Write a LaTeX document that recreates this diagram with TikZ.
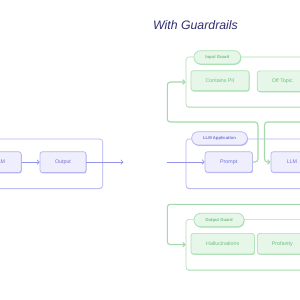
\documentclass[tikz,border=0pt]{standalone}
\usepackage{fontspec}
\setmainfont{Liberation Sans}
\usetikzlibrary{arrows.meta,shadows}
\definecolor{pfill}{HTML}{EEEEFC}
\definecolor{pline}{HTML}{B5B5F2}
\definecolor{ptext}{HTML}{7474D6}
\definecolor{parrow}{HTML}{9494EA}
\definecolor{gfill}{HTML}{E6F7E9}
\definecolor{gline}{HTML}{ADDFB5}
\definecolor{gtext}{HTML}{6DC07C}
\definecolor{garrow}{HTML}{A3D9AB}
\definecolor{titlec}{HTML}{2E2E70}
\begin{document}
\begin{tikzpicture}[x=1pt,y=-1pt,
  box/.style={rectangle,rounded corners=2.5pt,line width=0.7pt,inner sep=0pt,font=\fontsize{5.3}{6}\selectfont},
  pbox/.style={box,draw=pline,fill=pfill,text=ptext,drop shadow={shadow xshift=0.6pt,shadow yshift=-0.9pt,opacity=1,fill=pline}},
  gbox/.style={box,draw=gline,fill=gfill,text=gtext,drop shadow={shadow xshift=0.6pt,shadow yshift=-0.9pt,opacity=1,fill=gline}},
  grp/.style={rectangle,rounded corners=3pt,line width=0.6pt,inner sep=0pt,fill=white},
  pgrp/.style={grp,draw=pline,drop shadow={shadow xshift=0pt,shadow yshift=-0.7pt,opacity=1,fill=pline}},
  ggrp/.style={grp,draw=gline,drop shadow={shadow xshift=0pt,shadow yshift=-0.7pt,opacity=1,fill=gline}},
  pill/.style={rectangle,rounded corners=6.5pt,line width=0.7pt,inner sep=0pt,font=\fontsize{4.2}{5}\selectfont\bfseries},
  ppill/.style={pill,draw=pline,fill=pfill,text=ptext,drop shadow={shadow xshift=0.6pt,shadow yshift=-0.9pt,opacity=1,fill=pline}},
  gpill/.style={pill,draw=gline,fill=gfill,text=gtext,drop shadow={shadow xshift=0.6pt,shadow yshift=-0.9pt,opacity=1,fill=gline}},
  pcon/.style={draw=parrow,line width=0.7pt,-{Straight Barb[length=2.2pt,width=4.6pt]}},
  gcon/.style={draw=garrow,line width=1.1pt,rounded corners=3pt,-{Straight Barb[length=2.2pt,width=4.6pt]}}
]
\useasboundingbox (0,0) rectangle (300,300);
\fill[white] (0,0) rectangle (300,300);
\clip (0,0) rectangle (300,300);

% title
\node[anchor=base,text=titlec,font=\fontsize{12.3}{14}\selectfont\itshape,inner sep=0pt] (title) at (195.5,29.5) {With Guardrails};

% left: without guardrails
\node[pgrp,minimum width=142.7pt,minimum height=49.3pt] (leftgrp) at (31.35,163.65) {};
\node[pbox,minimum width=42.3pt,minimum height=20.8pt] (llmL) at (0,162.1) {LLM};
\node[pbox,minimum width=46pt,minimum height=20.8pt] (outL) at (63,162.1) {Output};
\coordinate (outEnd) at (123.5,162.1);

% input guard
\node[ggrp,minimum width=234pt,minimum height=50pt] (ig) at (303,82) {};
\node[gpill,minimum width=46.7pt,minimum height=13.3pt] (igpill) at (217.3,57.3) {Input Guard};
\node[gbox,minimum width=58pt,minimum height=20pt] (pii) at (220,80.7) {Contains PII};
\node[gbox,minimum width=50pt,minimum height=20.7pt] (off) at (282.3,81.2) {Off Topic};

% LLM application
\node[pgrp,minimum width=234pt,minimum height=49.3pt] (app) at (303,163.65) {};
\node[ppill,minimum width=55.6pt,minimum height=13.3pt] (apppill) at (219.5,138.3) {LLM Application};
\node[pbox,minimum width=47.3pt,minimum height=20.6pt] (prompt) at (228.7,162) {Prompt};
\node[pbox,minimum width=42pt,minimum height=20.6pt] (llmR) at (292,162) {LLM};
\coordinate (inStart) at (167,162);

% output guard
\node[ggrp,minimum width=234pt,minimum height=50.7pt] (og) at (303,244.65) {};
\node[gpill,minimum width=50pt,minimum height=13.4pt] (ogpill) at (219,220) {Output Guard};
\node[gbox,minimum width=63.3pt,minimum height=20.7pt] (hal) at (222.7,243.7) {Hallucinations};
\node[gbox,minimum width=50pt,minimum height=20.7pt] (prof) at (282.3,243.7) {Profanity};

% connectors
\draw[pcon] (llmL) -- (outL);
\draw[pcon] (outL) -- (outEnd);
\draw[pcon] (inStart) -- (prompt);

\coordinate (gA) at (310,122);
\coordinate (gB) at (310,204.3);
\draw[gcon] (prompt.east) -- (258,162) -- (258,122) -- (167.3,122) -- (167.3,82) -- (ig.west);
\draw[gcon] (gA) -- (264.5,122) -- (264.5,162) -- (llmR.west);
\draw[gcon] (gB) -- (167.3,204.3) -- (167.3,244.65) -- (og.west);
\end{tikzpicture}
\end{document}
